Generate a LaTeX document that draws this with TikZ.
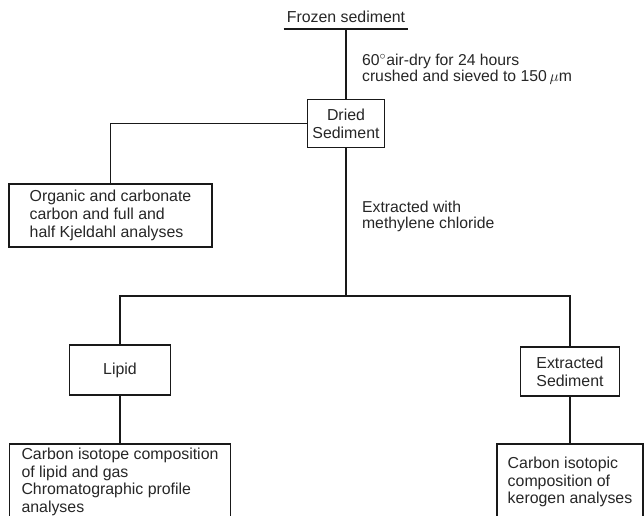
\documentclass[tikz,border=0pt]{standalone}
\usepackage{fontspec}
\setmainfont{Liberation Sans}

\tikzset{
  stage/.style={draw=black!90, line width=1.1pt, align=center},
  result/.style={draw=black!90, line width=1.1pt, align=left, anchor=north, inner ysep=0.33cm, text depth=2cm},
  link/.style={draw=black!90, line width=0.9pt},
  note/.style={right, xshift=0.27cm, align=left, font=\fontsize{11.2}{11.6}\selectfont}
}

\begin{document}
\begin{tikzpicture}[x=0.025cm, y=-0.025cm, every node/.style={text=black!85, font=\fontsize{11.3}{12.6}\selectfont}]
\clip (0,0) rectangle (644,515);
\node[anchor=south, inner ysep=4pt, inner xsep=2pt] (frozen) at (346,29) {Frozen sediment};
\node[stage, minimum width=1.925cm, minimum height=1.2cm] (dried) at (346,123.5) {Dried\\Sediment};
\node[stage, align=left, minimum width=5.075cm, minimum height=1.575cm] (organic) at (110.5,215.5) {Organic and carbonate\\carbon and full and\\half Kjeldahl analyses};
\coordinate (split) at (346,296);
\node[stage, minimum width=2.525cm, minimum height=1.25cm] (lipid) at (120,370) {Lipid};
\node[stage, minimum width=2.475cm, minimum height=1.225cm] (extracted) at (570,371.5) {Extracted\\Sediment};
\node[result, inner ysep=0.1cm, minimum width=5.525cm] (isotope) at (120,443) {Carbon isotope composition\\of lipid and gas\\Chromatographic profile\\analyses};
\node[result, minimum width=3.65cm] (kerogen) at (570,443) {Carbon isotopic\\composition of\\kerogen analyses};

\draw[link] (frozen.south west) -- (frozen.south east);
\draw[link] (frozen.south) -- node[note, pos=0.58] {60$^{\circ}$air-dry for 24 hours\\crushed and sieved to 150\,$\mu$m} (dried.north);
\draw[link] (dried.west) -| (organic.north);
\draw[link] (dried.south) -- node[note, pos=0.46] {Extracted with\\methylene chloride} (split);
\draw[link] (split) -| (lipid.north);
\draw[link] (split) -| (extracted.north);
\draw[link] (lipid.south) -- (isotope.north);
\draw[link] (extracted.south) -- (kerogen.north);
\end{tikzpicture}
\end{document}
